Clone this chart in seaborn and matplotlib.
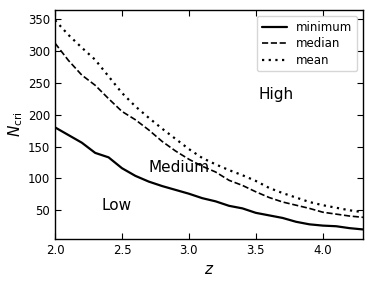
import matplotlib
matplotlib.use("Agg")
import matplotlib.pyplot as plt
import seaborn as sns
import pandas as pd

z = [2.0, 2.1, 2.2, 2.3, 2.4, 2.5, 2.6, 2.7, 2.8, 2.9, 3.0, 3.1,
     3.2, 3.3, 3.4, 3.5, 3.6, 3.7, 3.8, 3.9, 4.0, 4.1, 4.2, 4.3]
n_min = [180, 168, 156, 140, 133, 116, 104, 95, 88, 82, 76, 69,
         64, 57, 53, 46, 42, 38, 32, 28, 26, 25, 22, 20]
n_median = [312, 285, 262, 246, 225, 205, 192, 176, 158, 143, 130, 119,
            110, 97, 89, 79, 70, 63, 58, 53, 47, 44, 41, 39]
n_mean = [348, 325, 305, 286, 260, 234, 213, 195, 178, 162, 146, 132,
          122, 113, 105, 96, 85, 77, 70, 63, 58, 54, 50, 47]
series = ["minimum", "median", "mean"]
regions = ["High", "Medium", "Low"]
region_pos = [(3.65, 231), (2.93, 117), (2.46, 58)]

rows = []
for name, vals in zip(series, [n_min, n_median, n_mean]):
    for zi, v in zip(z, vals):
        rows.append({"z": zi, "N": v, "stat": name})
df = pd.DataFrame(rows)

sns.set_style("white")
plt.rcParams["font.family"] = ["DejaVu Sans"]
plt.rcParams["text.color"] = "black"
plt.rcParams["axes.labelcolor"] = "black"
plt.rcParams["xtick.color"] = "black"
plt.rcParams["ytick.color"] = "black"

fig = plt.figure(figsize=(3.73, 2.82), dpi=100)
ax = fig.add_axes([0.1475, 0.1525, 0.8255, 0.812])

styles = {"minimum": "-", "median": "--", "mean": (0, (1, 2))}
widths = {"minimum": 1.6, "median": 1.2, "mean": 1.6}
for name in series:
    sns.lineplot(data=df[df["stat"] == name], x="z", y="N", ax=ax,
                 color="black", linestyle=styles[name], linewidth=widths[name],
                 label=name)

for t, (xx, yy) in zip(regions, region_pos):
    ax.text(xx, yy, t, fontsize=11, ha="center", va="center", color="black")

ax.set_xlim(2.0, 4.3)
ax.set_ylim(5, 364)
ax.set_xticks([2.0, 2.5, 3.0, 3.5, 4.0])
ax.set_yticks([50, 100, 150, 200, 250, 300, 350])
ax.tick_params(direction="in", top=True, right=True, bottom=True, left=True,
               labelsize=8.5, length=4, width=0.8, color="black",
               labelcolor="black")
for s in ax.spines.values():
    s.set_color("black")
    s.set_linewidth(1.0)
ax.set_xlabel("$z$", fontsize=11, color="black")
ax.set_ylabel(r"$N_{\rm cri}$", fontsize=11, labelpad=2, color="black")

leg = ax.legend(loc="upper right", fontsize=8.5, frameon=True,
                handlelength=2.1, borderpad=0.4, labelspacing=0.3,
                fancybox=True)
leg.get_frame().set_edgecolor("#cccccc")
for t in leg.get_texts():
    t.set_color("black")

fig.savefig("out.png", dpi=100)
